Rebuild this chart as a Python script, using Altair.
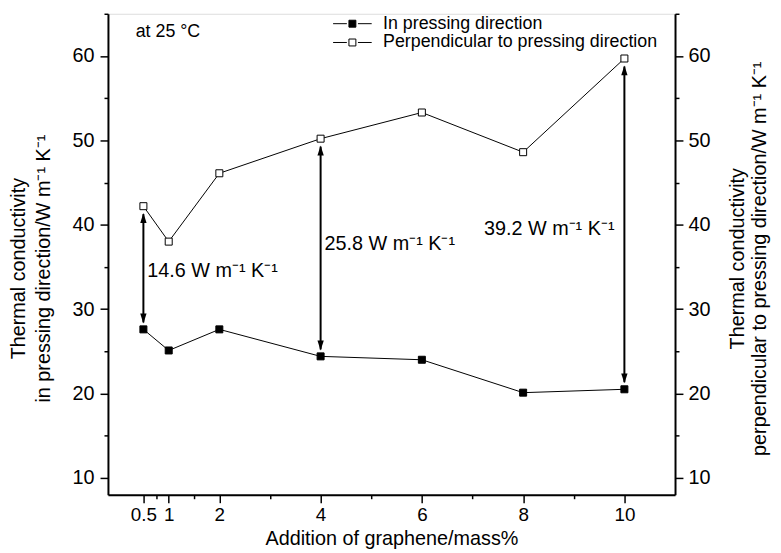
import altair as alt
import pandas as pd

# ---------------- data ----------------
graphene = [0.5, 1, 2, 4, 6, 8, 10]
k_in_pressing = [27.6, 25.1, 27.6, 24.4, 24.0, 20.1, 20.5]
k_perpendicular = [42.2, 38.0, 46.1, 50.2, 53.3, 48.6, 59.7]
series_names = ["In pressing direction", "Perpendicular to pressing direction"]

arrow_x = [0.5, 4, 10]
arrow_top = [42.2, 50.2, 59.7]
arrow_bottom = [27.6, 24.4, 20.5]

annot_text = ["14.6 W m⁻¹ K⁻¹", "25.8 W m⁻¹ K⁻¹", "39.2 W m⁻¹ K⁻¹"]
annot_x = [0.5, 4, 10]
annot_y = [34.5, 37.7, 39.5]
annot_align = ["left", "left", "right"]

note_text = ["at 25 °C"]
note_x = [0.27]
note_y = [62.8]

x_major = [0.5, 1, 2, 4, 6, 8, 10]
x_minor = [0.75, 1.5, 3, 5, 7, 9]
y_major = [10, 20, 30, 40, 50, 60]
y_minor = [15, 25, 35, 45, 55, 65]

# ---------------- tables ----------------
df = pd.DataFrame({
    "x": graphene * 2,
    "k": k_in_pressing + k_perpendicular,
    "series": [series_names[0]] * len(graphene) + [series_names[1]] * len(graphene),
})
arrows = pd.DataFrame({"x": arrow_x, "top": arrow_top, "bottom": arrow_bottom})
annots = pd.DataFrame({"x": annot_x, "y": annot_y, "text": annot_text, "align": annot_align})
notes = pd.DataFrame({"x": note_x, "y": note_y, "text": note_text})

FONT = "Liberation Sans"
FS = 20        # axis labels, axis titles, arrow annotations
FS_SMALL = 18  # legend and "at 25 °C"
XS = alt.Scale(domain=[-0.2, 11], nice=False, zero=False)
YS = alt.Scale(domain=[8, 65], nice=False, zero=False)

x_major_str = ",".join(str(v) for v in x_major)

common_axis = dict(
    grid=False, domainColor="black", domainWidth=2, tickColor="black", tickWidth=1.5,
    labelFont=FONT, labelFontSize=FS, labelColor="black", labelOverlap=False,
    titleFont=FONT, titleFontSize=FS, titleFontWeight="normal", titleColor="black",
)

x_axis_opts = dict(common_axis)
x_axis_opts["labelFontSize"] = 19
x_axis = alt.Axis(
    orient="bottom", values=sorted(x_major + x_minor),
    labelExpr=f"indexof([{x_major_str}], datum.value) >= 0 ? format(datum.value, '~g') : ''",
    tickSize={"condition": {"test": f"indexof([{x_major_str}], datum.value) >= 0", "value": 8}, "value": 4},
    labelPadding=3, title="Addition of graphene/mass%", titleY=50, titleBaseline="alphabetic",
    **x_axis_opts,
)

y_title_left = ["Thermal conductivity", "in pressing direction/W m⁻¹ K⁻¹"]
y_title_right = ["Thermal conductivity", "perpendicular to pressing direction/W m⁻¹ K⁻¹"]

y_all = sorted(y_major + y_minor)
y_tick_cond = {"condition": {"test": "datum.value % 10 === 0", "value": 8}, "value": 4}
y_label_expr = "datum.value % 10 === 0 ? format(datum.value, 'd') : ''"

y_left_axis = alt.Axis(
    orient="left", values=y_all, labelExpr=y_label_expr, tickSize=y_tick_cond,
    labelPadding=6, title=y_title_left, titleAngle=270, titleBaseline="bottom",
    titleAlign="center", titleX=-80, titleY=257, titleLineHeight=25,
    **common_axis,
)
y_right_axis = alt.Axis(
    orient="right", values=y_all, labelExpr=y_label_expr, tickSize=y_tick_cond,
    labelPadding=5, title=y_title_right, titleAngle=270, titleBaseline="top",
    titleAlign="center", titleX=53, titleY=247, titleLineHeight=22,
    **common_axis,
)

legend_symbol = "M-3.9,0H-1.12M1.12,0H3.9M-0.7,-0.7H0.7V0.7H-0.7Z"

base = alt.Chart(df)

lines = base.mark_line(color="black", strokeWidth=1).encode(
    x=alt.X("x:Q", scale=XS, axis=None),
    y=alt.Y("k:Q", scale=YS, axis=None),
    detail="series:N",
)

points = base.mark_point(shape="square", filled=True, stroke="black", strokeWidth=1,
                         size=50, opacity=1).encode(
    x=alt.X("x:Q", scale=XS, axis=x_axis),
    y=alt.Y("k:Q", scale=YS, axis=y_left_axis),
    fill=alt.Fill("series:N", scale=alt.Scale(domain=series_names, range=["black", "white"]),
                  legend=alt.Legend(title=None, orient="none", legendX=238, legendY=1,
                                    symbolType=legend_symbol, symbolSize=100,
                                    symbolStrokeColor="black", symbolStrokeWidth=1,
                                    symbolOpacity=1, labelFont=FONT, labelFontSize=FS_SMALL,
                                    labelColor="black", labelOffset=22, labelLimit=0,
                                    padding=0, rowPadding=1, offset=0)),
)

right_axis_layer = base.mark_point(opacity=0).encode(
    x=alt.X("x:Q", scale=XS, axis=None),
    y=alt.Y("k:Q", scale=YS, axis=y_right_axis),
)

arrow_base = alt.Chart(arrows)
shafts = arrow_base.mark_rule(color="black", strokeWidth=2, yOffset=8, y2Offset=-7).encode(
    x=alt.X("x:Q", scale=XS, axis=None),
    y=alt.Y("top:Q", scale=YS, axis=None),
    y2="bottom:Q",
)
heads_up = arrow_base.mark_point(shape="M0,0L-0.32,1L0.32,1Z", filled=True, fill="black",
                                 strokeWidth=0, size=400, opacity=1, yOffset=7).encode(
    x=alt.X("x:Q", scale=XS, axis=None),
    y=alt.Y("top:Q", scale=YS, axis=None),
)
heads_down = arrow_base.mark_point(shape="M0,0L-0.32,-1L0.32,-1Z", filled=True, fill="black",
                                   strokeWidth=0, size=400, opacity=1, yOffset=-6).encode(
    x=alt.X("x:Q", scale=XS, axis=None),
    y=alt.Y("bottom:Q", scale=YS, axis=None),
)

annot_base = alt.Chart(annots)
texts_left = annot_base.transform_filter("datum.align == 'left'").mark_text(
    align="left", baseline="middle", dx=4, font=FONT, fontSize=FS, color="black").encode(
    x=alt.X("x:Q", scale=XS, axis=None),
    y=alt.Y("y:Q", scale=YS, axis=None),
    text="text:N",
)
texts_right = annot_base.transform_filter("datum.align == 'right'").mark_text(
    align="right", baseline="middle", dx=-10, font=FONT, fontSize=FS, color="black").encode(
    x=alt.X("x:Q", scale=XS, axis=None),
    y=alt.Y("y:Q", scale=YS, axis=None),
    text="text:N",
)
note = alt.Chart(notes).mark_text(
    align="left", baseline="middle", dx=4, font=FONT, fontSize=FS_SMALL, color="black").encode(
    x=alt.X("x:Q", scale=XS, axis=None),
    y=alt.Y("y:Q", scale=YS, axis=None),
    text="text:N",
)

chart = alt.layer(
    lines, shafts, heads_up, heads_down, points, right_axis_layer, texts_left, texts_right, note
).resolve_axis(x="independent", y="independent").properties(
    width=573, height=486,
    autosize=alt.AutoSizeParams(type="none"),
    padding={"left": 101, "top": 3, "right": 99, "bottom": 56},
).configure_view(stroke=None).configure(font=FONT)

chart.save("out.html", embed_options={"renderer": "svg", "actions": False})
